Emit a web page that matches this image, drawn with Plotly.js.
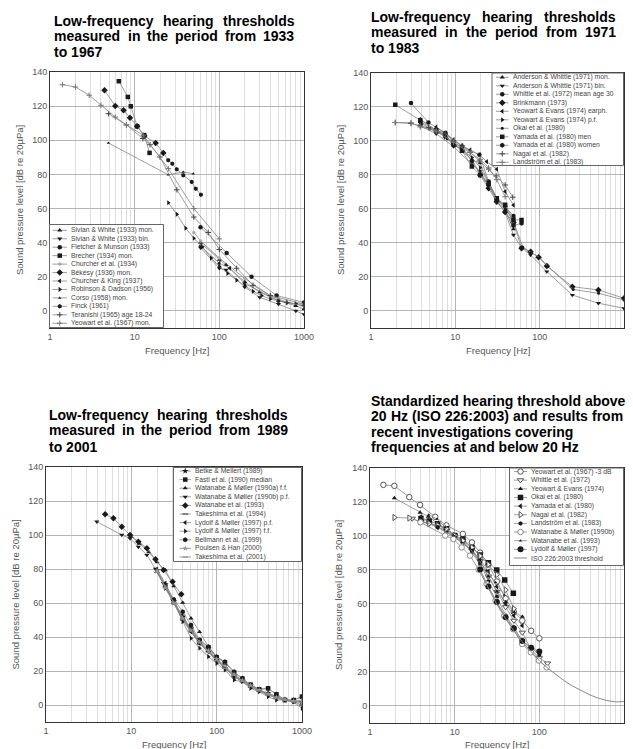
<!DOCTYPE html>
<html><head><meta charset="utf-8">
<script src="https://cdn.plot.ly/plotly-3.0.1.min.js"></script>
<style>html,body{margin:0;padding:0;background:#fff}</style>
</head><body><div id="chart" style="width:633px;height:749px"></div>
<script>
// ---------------- DATA ----------------
// Panel 1: 1933-1967
const p1_labels = ['Sivian & White (1933) mon.','Sivian & White (1933) bin.','Fletcher & Munson (1933)','Brecher (1934) mon.','Churcher et al. (1934)','Békésy (1936) mon.','Churcher & King (1937)','Robinson & Dadson (1956)','Corso (1958) mon.','Finck (1961)','Teranishi (1965) age 18-24','Yeowart et al. (1967) mon.'];
const p1_freq = [
 [60,100,120,200,300,500,800,1000],
 [60,100,120,200,300,500,800,1000],
 [60,122,240,475,1000],
 [6.5,8.3,9,10.7,13,15],
 [50,60,100,200,400,1000],
 [4.4,5.9,7.4,8.8,10.7,13,17.7,21.8],
 [60,100,133,200,500,1000],
 [25,31.5,40,50,63,80,100,125,160,200,250,315,400,500,630,800,1000],
 [4.9,24.9,37.5,49.3],
 [21.8,24.9,27.8,31.4,37.5,47.2,52.7,60.6],
 [4.9,8,12.5,15.2,19.9,31.5,50,74,100,160,250,400,630,1000],
 [1.4,2,2.9,4,5.9,8,12.6,25,50,100]
];
const p1_spl = [
 [40,30,27,17,11,6,3,1],
 [37,25,24,14,8,4,0,-2],
 [49,34,20,9,5],
 [134.6,125.4,119.9,108.2,103,92.6],
 [46,41,31,19,9,4],
 [129.3,120.1,117.6,113.2,108.2,102.5,98.4,92.6],
 [38,28,25,16,6,3],
 [63.4,56.6,48.5,42.6,37.5,31,26,22,18,14.8,11.5,9,7,5.8,4.8,4.2,4],
 [98.4,79.8,81.4,80.4],
 [92.6,88.3,86.3,83,79.5,75.6,71.6,68.1],
 [115.6,109,101,97.4,90.2,71,55,46,36,25,15,9,5,3],
 [132.6,131.2,126.4,120.5,113.6,109,103,83.4,60,42.2]
];
// Panel 2: 1971-1983
const p2_labels = ['Anderson & Whittle (1971) mon.','Anderson & Whittle (1971) bin.','Whittle et al. (1972) mean age 30','Brinkmann (1973)','Yeowart & Evans (1974) earph.','Yeowart & Evans (1974) p.f.','Okai et al. (1980)','Yamada et al. (1980) men','Yamada et al. (1980) women','Nagai et al. (1982)','Landström et al. (1983)'];
const p2_freq = [
 [3.84,5.93,9.5,15.7,19.7,24.8,31,39,48.9],
 [3.84,5.93,9.5,15.7,19.7,24.8,31,39,48.9,61,78,121.5,244,497,1000],
 [2.98,4.8,7.6,12,19.3,24.8,31,39,48.9],
 [19.7,24.8,31,39,48.9,61,78,97,121.5,244,497,1000],
 [5.93,7.6,9.5,12,15,19.3,23.6,31,39,48.9],
 [5.93,7.6,9.5,12,15.7,19.7,24.8,31,39,48.9],
 [4,5,6.3,8,10,12.5,16,20,25,31.5,40,50,63,80,100,125,250,500,1000],
 [1.94,3.84,5.93,7.6,9.5,12,15.7,19.7,24.8,31,39,48.9,61],
 [3.84,5.93,7.6,9.5,12,15.7,19.7,24.8,31,39,48.9,61],
 [1.94,2.98,3.84,4.8,5.93,7.6,9.5,12,15,19.3,24.8,30.5,39,48],
 [1.94,2.98,3.84,5.93,9.5,15,19.7,24.8,31,39]
];
const p2_spl = [
 [112.6,106,98.5,88.6,86.7,75,66.1,59.2,47.9],
 [108.7,104,96.5,86,82,73,64.7,57.7,44.5,37,32.8,23,9.2,4.4,1.4],
 [122,110.6,104.3,96.5,91.6,76,66,61.2,55.7],
 [79.8,72,64,58,51.8,36.7,34.7,31.4,26.3,14.1,12.2,7.3],
 [108,104.5,100.5,97,94.5,91.6,87.6,83.2,70,62],
 [107,102,98,95,90,84,75,66,61,52],
 [110,107,105,101,97,94,88,80,73,66,60,51,37.5,34,31.4,26,12.5,10.2,6.3],
 [121,112,106,103,98,94,84.7,79.8,75,66.1,62.2,53.4,53.3],
 [111,106,104.5,99,96,88,80,74,64.7,58,50,51.4],
 [110.6,110,108.7,107.6,106,104,100,97,93,88,83.2,79.2,73.9,66.7],
 [110.6,110.5,108,105.5,99,93,89,84,77,67]
];
// Panel 3: 1989-2001
const p3_labels = ['Betke & Mellert (1989)','Fastl et al. (1990) median','Watanabe & Møller (1990a) f.f.','Watanabe & Møller (1990b) p.f.','Watanabe et al. (1993)','Takeshima et al. (1994)','Lydolf & Møller (1997) p.f.','Lydolf & Møller (1997) f.f.','Bellmann et al. (1999)','Poulsen & Han (2000)','Takeshima et al. (2001)'];
const p3_freq = [
 [20,25,31.5,40,50,63,80,100,125,160,200,250,315,400,500,630,800,1000],
 [25,31.5,40,50,63,80,100,125,160,200,250,315,400,500,630,800,1000],
 [10,12.5,16,20,25,31.5,40,50,63,80,100,125],
 [3.94,7.73,9.66,12.1,15.2,19.2,23.8,30.4,38.5,49,62.7,79.2,98.7,122],
 [4.93,6.17,7.73,9.66,12.1,15.2,19.2,23.8,30.4,38.5],
 [20,25,31.5,40,50,63,80,100,125,160,200,250,315,400,500,630,800,1000],
 [20,25,31.5,40,50,63,80,100,125,160,200,250,315,400,500,630,800,1000],
 [20,25,31.5,40,50,63,80,100,125,160,200,250,315,400,500,630,800,1000],
 [31.5,40,50,63,80,100,125,160,200,250,315,400,500,630,800,1000],
 [20,25,31.5,40,50,63,80,100,125,160,200,250,315,400,500,630,800,1000],
 [20,25,31.5,40,50,63,80,100,125,160,200,250,315,400,500,630,800,1000]
];
const p3_spl = [
 [79,71,61,52,45,37,33,27,23,17,14.5,11.5,9,7,5,3,2,1.9],
 [70,60.5,51,45,38,34,28,25,19,15.5,12,9.2,9.8,6.3,3,2.9,4.9],
 [99,95,90,84,79.4,70,60.2,51,43,34.3,28.4,24.5],
 [107.8,100,98,93,88.2,80,71.6,61.8,52.9,45,36.3,31.4,26.5,22.5],
 [112.2,109.8,104.9,100,96.1,92.2,85.7,79.4,72.5,65.1],
 [78,70,60,50,43,36,31.4,26.5,22,16.6,13.7,10.5,8,6,4,3,1.8,0],
 [80,71.6,61.8,51,43.1,36.3,31.4,26.5,22.5,16.6,14.2,11,8.5,6.9,4.9,2.9,2.5,1.9],
 [79.4,68.6,60.2,49,39.2,33.4,28.4,24.5,20.6,14.7,13.7,9.8,7.8,4.9,2.9,2.9,1.8,-2],
 [62,54.9,47,38.2,34.3,28.4,25.5,19.6,15.7,11.8,9.2,9.8,6.3,3,2.9,4.9],
 [79,69,60,51,44,37,32,27,23,18,14.5,11.5,8.8,6.5,4.5,3.2,2.3,2.5],
 [78,69,59.5,50.5,43.5,37,31,26,21.5,17.5,14,11,8.5,6,4.2,2.8,2,1.5]
];
// Panel 4: ISO 226:2003 and recent investigations
const p4_labels = ['Yeowart et al. (1967) -3 dB','Whittle et al. (1972)','Yeowart & Evans (1974)','Okai et al. (1980)','Yamada et al. (1980)','Nagai et al. (1982)','Landström et al. (1983)','Watanabe & Møller (1990b)','Watanabe et al. (1993)','Lydolf & Møller (1997)','ISO 226:2003 threshold'];
const p4_freq = [
 [1.44,1.94,2.91,3.9,5.9,8,12.5,16,20,25,31.5,40,50,63,80,100],
 [3.15,4,5,6.3,8,10,12.5,16,20,25,31.5,40,50,63,80,100,125],
 [1.94,3.9,4.88,6.3,8,10,12.5,16,20,25,31.5,40,50,63],
 [4,5,6.3,8,10,12.5,16,20,25,31.4,39,49.3],
 [4,5,6.3,8,10,12.5,16,20,25,31.5,40,50,63],
 [1.94,2.91,3.9,5,6.3,8,10,12.5,16,20,25,31.5,40,50],
 [3.9,6.3,10,16,20,25,31.5,40,50,63,80,100],
 [3.94,7.73,9.66,12.1,15.2,19.2,23.8,30.4,38.5,49,62.7,79.2,98.7,122],
 [4.93,6.17,7.73,9.66,12.1,15.2,19.2,23.8,30.4,38.5],
 [20,25,31.5,40,50,63,80,100],
 [20,25,31.5,40,50,63,80,100,125,160,200,250,315,400,500,630,800,1000]
];
const p4_spl = [
 [129.8,129.2,122.6,118,111,106,101,96,90,83,73,63,55,50,44,39.6],
 [110,108,107,105,103,100,97,92,85,76,67,58,50,43,33,28,24.9],
 [122,113.5,111.2,107,103,99,96,90,83,76,67,61,55,52.3],
 [110,108.5,107,104,100,98,93,88.5,84,79.8,73.9,66.1],
 [111,108,105,102,99,96,91,86,79,70,60,53,47],
 [110.6,110.3,108.2,107,106,104,100,97,93,88,83,77,68,57],
 [109,105,99,91,84,73,64,53,46,38,34,30],
 [107.8,100,98,93,88.2,80,71.6,61.8,52.9,45,36.3,31.4,26.5,22.5],
 [112.2,109.8,104.9,100,96.1,92.2,85.7,79.4,72.5,65.1],
 [80,70,61,52,45.5,38,34,31.8],
 [78.5,68.7,59.5,51.1,44.0,37.5,31.5,26.5,22.1,17.9,14.4,11.4,8.6,6.2,4.4,3.0,2.2,2.4]
];
const xTickVals = [1,10,100,1000];
const xTickText = ['1','10','100','1000'];
const yTickVals = [0,20,40,60,80,100,120,140];
const minorVals = [2,3,4,5,6,7,8,9,20,30,40,50,60,70,80,90,200,300,400,500,600,700,800,900];

// ---------------- STYLE ----------------
const FONT = 'Liberation Sans, Arial, Helvetica, sans-serif';
const W = 633, H = 749;
const K = '#1a1a1a';
function st(sym, size, opts){ return Object.assign({sym:sym, size:size, fill:K, edge:K}, opts||{}); }
const p1_style = [st('triangle-up',4.5),st('triangle-down',4.5),st('circle',4.5),st('square',4.5),st('circle',3.5,{fill:'#aaa',edge:'#aaa'}),st('diamond',5),st('triangle-left',4.5),st('triangle-right',4.5),st('triangle-up',3),st('hexagon',4.5),st('cross-thin',4,{edge:'#444'}),st('cross-thin',4,{edge:'#777'})];
const p2_style = [st('triangle-up',4.5),st('triangle-down',4.5),st('circle',4.5),st('diamond',5),st('triangle-left',4.5),st('triangle-right',4.5),st('circle',3),st('square',4.5),st('hexagon',5),st('cross-thin',4,{edge:'#444'}),st('cross-thin',4,{edge:'#777'})];
const p3_style = [st('star',5),st('square',4.5),st('triangle-up',4.5),st('triangle-down',4.5),st('diamond',5),st('line-ew',4,{edge:'#333'}),st('triangle-left',4.5),st('triangle-right',4.5),st('hexagon',5),st('star',4.5,{fill:'#999',edge:'#999'}),st('line-ew',4,{edge:'#888'})];
const p4_style = [st('circle',5.5,{fill:'#fff',edge:'#555'}),st('triangle-down',5.5,{fill:'#fff',edge:'#555'}),st('triangle-up',4.5),st('square',5.5),st('triangle-left',5),st('triangle-right',5.5,{fill:'#fff',edge:'#555'}),st('hexagon',4.5),st('circle',5.5,{fill:'#fff',edge:'#888'}),st('triangle-up',3),st('circle',6),st(null,0)];

const boxes = [
  {l:50, r:304, t:72, b:328},
  {l:371, r:624, t:72.5, b:327.7},
  {l:46, r:302, t:467, b:722},
  {l:370, r:624, t:467.5, b:722.7}
];
const legendBoxes = [
  {bx0:49.5,bx1:163.5,by0:224.5,by1:327.5, lx0:52.5,lx1:67,tx:70,y0:230.3,dy:8.45},
  {bx0:492,bx1:623.5,by0:73,by1:165.5, lx0:496,lx1:508.5,tx:512,y0:77.3,dy:8.5},
  {bx0:173.5,bx1:301.5,by0:467.5,by1:561.5, lx0:179.5,lx1:191,tx:194,y0:471,dy:8.6},
  {bx0:509.5,bx1:623.5,by0:468,by1:565.5, lx0:514,lx1:527,tx:530,y0:471.5,dy:8.65}
];
const titles = [
  {x0:53.3,x1:293.3,lines:[['Low-frequency hearing thresholds',true],['measured in the period from 1933',true],['to 1967',false]],ys:[21.3,36.3,51.5]},
  {x0:370,x1:615,lines:[['Low-frequency hearing thresholds',true],['measured in the period from 1971',true],['to 1983',false]],ys:[17,32,47.5]},
  {x0:48.3,x1:286.7,lines:[['Low-frequency hearing thresholds',true],['measured in the period from 1989',true],['to 2001',false]],ys:[415,430.3,446.5]},
  {x0:370,x1:621.7,lines:[['Standardized hearing threshold above',false],['20 Hz (ISO 226:2003) and results from',true],['recent investigations covering',false],['frequencies at and below 20 Hz',false]],ys:[400.8,416.3,431.8,447.3]}
];
const xTitleY = [350.3,350.3,744,744];
const yTitleX = [19,340,15,338];

// ---------------- BUILD ----------------
const panels = [
  {labels:p1_labels,freq:p1_freq,spl:p1_spl,style:p1_style},
  {labels:p2_labels,freq:p2_freq,spl:p2_spl,style:p2_style},
  {labels:p3_labels,freq:p3_freq,spl:p3_spl,style:p3_style},
  {labels:p4_labels,freq:p4_freq,spl:p4_spl,style:p4_style}
];
const traces = [];
const layout = {
  width:W, height:H, margin:{l:0,r:0,t:0,b:0}, paper_bgcolor:'#fff', plot_bgcolor:'rgba(0,0,0,0)',
  showlegend:false, font:{family:FONT}, annotations:[]
};
function edgeW(s){ return (s.sym.indexOf('cross')===0||s.sym.indexOf('line')===0)?1:(s.fill==='#fff'?1:0); }
panels.forEach((P,pi)=>{
  const n = pi+1, xs = n===1?'x':'x'+n, ys = n===1?'y':'y'+n;
  const b = boxes[pi];
  layout[n===1?'xaxis':'xaxis'+n] = {
    type:'log', range:[0,3], domain:[b.l/W, b.r/W], anchor:ys,
    tickmode:'array', tickvals:xTickVals, ticktext:xTickText,
    showgrid:true, gridcolor:'#b5b5b5', gridwidth:1,
    minor:{tickmode:'array', tickvals:minorVals, showgrid:true, gridcolor:'#dedede', gridwidth:1, ticks:''},
    showline:true, mirror:true, linecolor:'#333', linewidth:1, ticks:'', zeroline:false,
    tickfont:{family:FONT,size:9,color:'#555'}, fixedrange:true
  };
  layout[n===1?'yaxis':'yaxis'+n] = {
    range:[-10,140], domain:[1-b.b/H, 1-b.t/H], anchor:xs,
    tickmode:'array', tickvals:yTickVals,
    showgrid:true, gridcolor:'#b5b5b5', gridwidth:1,
    showline:true, mirror:true, linecolor:'#333', linewidth:1, ticks:'', zeroline:false,
    tickfont:{family:FONT,size:9,color:'#555'}, fixedrange:true
  };
  P.labels.forEach((lab,i)=>{
    const s = P.style[i];
    const tr = {type:'scatter', x:P.freq[i], y:P.spl[i], xaxis:xs, yaxis:ys, name:lab,
      mode: s.sym ? 'lines+markers' : 'lines',
      line:{color: s.sym ? '#858585' : '#8a8a8a', width: s.sym ? 0.8 : 1}, hoverinfo:'skip'};
    if (s.sym) tr.marker = {symbol:s.sym, size:s.size, color:s.fill, line:{color:s.edge, width:edgeW(s)}};
    traces.push(tr);
  });
});
// overlay (pixel) axes for legends & text
layout.xaxis5 = {domain:[0,1], range:[0,W], visible:false, fixedrange:true, anchor:'y5'};
layout.yaxis5 = {domain:[0,1], range:[H,0], visible:false, fixedrange:true, anchor:'x5'};
panels.forEach((P,pi)=>{
  const L = legendBoxes[pi];
  traces.push({type:'scatter', x:[L.bx0,L.bx1,L.bx1,L.bx0,L.bx0], y:[L.by0,L.by0,L.by1,L.by1,L.by0], xaxis:'x5', yaxis:'y5',
    mode:'lines', fill:'toself', fillcolor:'#fff', line:{color:'#666',width:1}, hoverinfo:'skip'});
  P.labels.forEach((lab,i)=>{
    const s = P.style[i];
    const yy = L.y0 + i*L.dy;
    const tr = {type:'scatter', x:[L.lx0,(L.lx0+L.lx1)/2,L.lx1], y:[yy,yy,yy], xaxis:'x5', yaxis:'y5',
      mode: s.sym ? 'lines+markers':'lines', line:{color: s.sym?'#858585':'#8a8a8a', width:s.sym?0.8:1}, hoverinfo:'skip'};
    if (s.sym) tr.marker = {symbol:s.sym, size:s.size, color:s.fill, opacity:[0,1,0], line:{color:s.edge, width:edgeW(s)}};
    traces.push(tr);
    layout.annotations.push({xref:'x5',yref:'y5',x:L.tx,y:yy,xanchor:'left',yanchor:'middle',text:lab,showarrow:false,
      font:{family:FONT,size:6.8,color:'#444'},borderpad:0});
  });
});
// titles with justification via canvas measurement
const cv = document.createElement('canvas').getContext('2d');
const TF = 14;
cv.font = 'bold '+TF+'px "Liberation Sans", Arial, sans-serif';
titles.forEach(T=>{
  T.lines.forEach((ln,li)=>{
    const txt = ln[0], just = ln[1]; const y = T.ys[li];
    if (!just) {
      layout.annotations.push({xref:'x5',yref:'y5',x:T.x0,y:y,xanchor:'left',yanchor:'middle',text:'<b>'+txt+'</b>',showarrow:false,borderpad:0,font:{family:FONT,size:TF,color:'#000'}});
      return;
    }
    const words = txt.split(' ');
    const ws = words.map(w=>cv.measureText(w).width);
    const tot = ws.reduce((a,c)=>a+c,0);
    const gap = Math.max(3.5,(T.x1-T.x0-tot)/(words.length-1));
    let x = T.x0;
    words.forEach((w,wi)=>{
      layout.annotations.push({xref:'x5',yref:'y5',x:x,y:y,xanchor:'left',yanchor:'middle',text:'<b>'+w+'</b>',showarrow:false,borderpad:0,font:{family:FONT,size:TF,color:'#000'}});
      x += ws[wi]+gap;
    });
  });
});
// axis titles
boxes.forEach((b,pi)=>{
  layout.annotations.push({xref:'x5',yref:'y5',x:(b.l+b.r)/2,y:xTitleY[pi],xanchor:'center',yanchor:'middle',text:'Frequency [Hz]',showarrow:false,borderpad:0,font:{family:FONT,size:9.5,color:'#555'}});
  layout.annotations.push({xref:'x5',yref:'y5',x:yTitleX[pi],y:(b.t+b.b)/2,xanchor:'center',yanchor:'middle',textangle:-90,text:'Sound pressure level [dB re 20µPa]',showarrow:false,borderpad:0,font:{family:FONT,size:9.5,color:'#555'}});
});
Plotly.newPlot('chart', traces, layout, {staticPlot:true, displayModeBar:false});
</script></body></html>
